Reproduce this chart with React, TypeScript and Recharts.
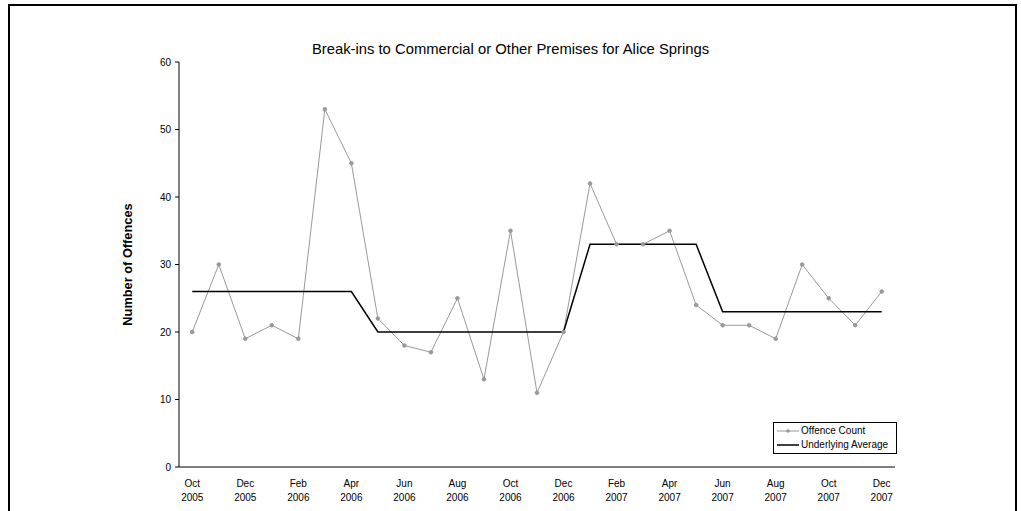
import React from 'react';
import { LineChart, Line, XAxis, YAxis, Legend } from 'recharts';

const FONT = "Arial, 'Liberation Sans', Helvetica, sans-serif";

const months = [
  'Oct 2005', 'Nov 2005', 'Dec 2005', 'Jan 2006', 'Feb 2006', 'Mar 2006', 'Apr 2006',
  'May 2006', 'Jun 2006', 'Jul 2006', 'Aug 2006', 'Sep 2006', 'Oct 2006', 'Nov 2006',
  'Dec 2006', 'Jan 2007', 'Feb 2007', 'Mar 2007', 'Apr 2007', 'May 2007', 'Jun 2007',
  'Jul 2007', 'Aug 2007', 'Sep 2007', 'Oct 2007', 'Nov 2007', 'Dec 2007',
];

const offenceCount = [
  20, 30, 19, 21, 19, 53, 45, 22, 18, 17, 25, 13, 35, 11, 20, 42, 33, 33, 35, 24, 21, 21, 19, 30, 25, 21, 26,
];

const underlyingAverage = [
  26, 26, 26, 26, 26, 26, 26, 20, 20, 20, 20, 20, 20, 20, 20, 33, 33, 33, 33, 33, 23, 23, 23, 23, 23, 23, 23,
];

const labelledMonths = [
  'Oct 2005', 'Dec 2005', 'Feb 2006', 'Apr 2006', 'Jun 2006', 'Aug 2006', 'Oct 2006',
  'Dec 2006', 'Feb 2007', 'Apr 2007', 'Jun 2007', 'Aug 2007', 'Oct 2007', 'Dec 2007',
];

const yTicks = [0, 10, 20, 30, 40, 50, 60];

const data = months.map((m, i) => ({
  idx: i,
  month: m,
  count: offenceCount[i],
  avg: underlyingAverage[i],
}));

const labelTicks = labelledMonths.map((m) => months.indexOf(m));
const boundaryTicks = [...months.map((_, i) => i - 0.5), months.length - 0.5];
const xDomain = [-0.5, months.length - 0.5];

const MonthTick = (props: any) => {
  const { x, y, payload } = props;
  const [mon, yr] = months[payload.value].split(' ');
  return (
    <text x={x} y={y} textAnchor="middle" fontSize={10} fill="#000" fontFamily={FONT}>
      <tspan x={x} dy={8}>{mon}</tspan>
      <tspan x={x} dy={13.5}>{yr}</tspan>
    </text>
  );
};

const LegendBox = () => (
  <div
    style={{
      border: '1px solid #000',
      background: '#fff',
      padding: '1px 3px 1px 3px',
      fontSize: 10,
      fontFamily: FONT,
      lineHeight: '14px',
      color: '#000',
      boxSizing: 'border-box',
      width: 124,
    }}
  >
    <div style={{ display: 'flex', alignItems: 'center' }}>
      <svg width={22} height={8} style={{ marginRight: 2 }}>
        <line x1={0} y1={4} x2={22} y2={4} stroke="#999" strokeWidth={1} />
        <circle cx={11} cy={4} r={1.8} fill="#999" />
      </svg>
      <span>Offence Count</span>
    </div>
    <div style={{ display: 'flex', alignItems: 'center' }}>
      <svg width={22} height={8} style={{ marginRight: 2 }}>
        <line x1={0} y1={4} x2={22} y2={4} stroke="#000" strokeWidth={1.5} />
      </svg>
      <span>Underlying Average</span>
    </div>
  </div>
);

export default function App() {
  return (
    <div style={{ position: 'absolute', left: 0, top: 0, width: 1021, height: 511, overflow: 'hidden', background: '#fff' }}>
      <div
        style={{
          position: 'absolute',
          left: 8,
          top: 4,
          width: 1009,
          height: 540,
          border: '2px solid #000',
          boxSizing: 'border-box',
        }}
      />
      <div
        style={{
          position: 'absolute',
          left: 0,
          top: 41,
          width: 1021,
          textAlign: 'center',
          fontFamily: FONT,
          fontSize: 14.8,
          color: '#000',
        }}
      >
        Break-ins to Commercial or Other Premises for Alice Springs
      </div>
      <div style={{ position: 'absolute', left: 0, top: 0 }}>
        <LineChart
          width={1021}
          height={511}
          data={data}
          margin={{ top: 62, right: 126, bottom: 0, left: 75 }}
        >
          <XAxis
            xAxisId="a"
            type="number"
            dataKey="idx"
            domain={xDomain}
            ticks={boundaryTicks}
            tick={false}
            tickSize={4}
            height={4}
            axisLine={{ stroke: '#000', strokeWidth: 1 }}
            tickLine={{ stroke: '#000', strokeWidth: 1 }}
            allowDataOverflow
          />
          <XAxis
            xAxisId="b"
            type="number"
            dataKey="idx"
            domain={xDomain}
            ticks={labelTicks}
            tick={<MonthTick />}
            interval={0}
            axisLine={false}
            tickLine={false}
            height={40}
            allowDataOverflow
          />
          <YAxis
            type="number"
            domain={[0, 60]}
            ticks={yTicks}
            width={104}
            tickSize={4}
            tickMargin={4}
            axisLine={{ stroke: '#000', strokeWidth: 1 }}
            tickLine={{ stroke: '#000', strokeWidth: 1 }}
            tick={{ fontSize: 10, fill: '#000', fontFamily: FONT }}
            label={{
              value: 'Number of Offences',
              angle: -90,
              position: 'center',
              style: { fontSize: 12.8, fontWeight: 'bold', fill: '#000', fontFamily: FONT },
            }}
          />
          <Line
            xAxisId="a"
            type="linear"
            dataKey="count"
            name="Offence Count"
            stroke="#999"
            strokeWidth={1}
            dot={{ r: 1.8, fill: '#999', stroke: '#999', strokeWidth: 1 }}
            activeDot={false}
            isAnimationActive={false}
          />
          <Line
            xAxisId="a"
            type="linear"
            dataKey="avg"
            name="Underlying Average"
            stroke="#000"
            strokeWidth={1.5}
            dot={false}
            activeDot={false}
            isAnimationActive={false}
          />
          <Legend
            layout="horizontal"
            verticalAlign="middle"
            align="center"
            content={<LegendBox />}
            wrapperStyle={{ position: 'absolute', left: 773, top: 422, width: 124 }}
          />
        </LineChart>
      </div>
    </div>
  );
}
